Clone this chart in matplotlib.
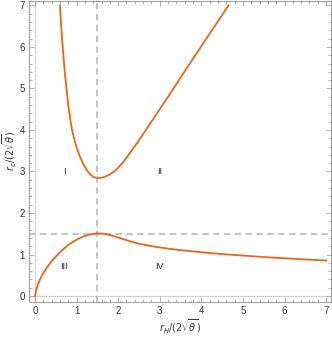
import matplotlib
matplotlib.use("Agg")
import matplotlib.pyplot as plt
from matplotlib.ticker import MultipleLocator

# Upper branch (r_c vs r_H)
upper_x = [0.60, 0.63, 0.66, 0.70, 0.75, 0.80, 0.85, 0.90, 0.96, 1.02, 1.08, 1.16,
           1.24, 1.32, 1.40, 1.50, 1.60, 1.70, 1.80, 1.90, 2.00, 2.10, 2.20, 2.30,
           2.45, 2.60, 2.80, 3.00, 3.20, 3.50, 3.80, 4.10, 4.40, 4.65]
upper_y = [7.00, 6.50, 6.08, 5.58, 5.05, 4.60, 4.24, 3.96, 3.72, 3.52, 3.36, 3.18,
           3.04, 2.94, 2.87, 2.84, 2.85, 2.88, 2.93, 3.00, 3.09, 3.20, 3.33, 3.47,
           3.68, 3.90, 4.20, 4.50, 4.80, 5.26, 5.72, 6.17, 6.62, 7.00]

# Lower branch
lower_x = [0.00, 0.03, 0.07, 0.12, 0.18, 0.25, 0.33, 0.42, 0.52, 0.65, 0.80, 0.97,
           1.15, 1.30, 1.42, 1.52, 1.65, 1.80, 2.00, 2.25, 2.50, 2.75, 3.00, 3.25,
           3.50, 4.00, 4.50, 5.00, 5.50, 6.00, 6.50, 7.00]
lower_y = [0.00, 0.15, 0.28, 0.40, 0.52, 0.63, 0.75, 0.86, 0.97, 1.10, 1.23, 1.34,
           1.43, 1.48, 1.50, 1.51, 1.50, 1.47, 1.41, 1.33, 1.26, 1.21, 1.17, 1.135,
           1.105, 1.055, 1.01, 0.975, 0.94, 0.91, 0.88, 0.855]

vline_x = 1.5
hline_y = 1.5

region_labels = ["I", "II", "III", "IV"]
region_x = [0.7, 3.0, 0.7, 3.0]
region_y = [3.0, 3.0, 0.71, 0.71]

xticks = [0, 1, 2, 3, 4, 5, 6, 7]
yticks = [0, 1, 2, 3, 4, 5, 6, 7]

W, H = 332, 338
fig = plt.figure(figsize=(W / 100, H / 100), dpi=100)
left, right = 29 / W, 330.7 / W
bottom, top = (H - 301.7) / H, (H - 0.5) / H
ax = fig.add_axes([left, bottom, right - left, top - bottom])

curve_color = "#e4661d"
grid_gray = "#bdbdbd"
frame_gray = "#a0a0a0"

ax.axvline(0, color="#d0d0d0", lw=0.9, zorder=1)
ax.axhline(0, color="#d0d0d0", lw=0.9, zorder=1)
ax.axvline(vline_x, color=grid_gray, lw=1.3, ls=(0, (3.5, 2.5)), zorder=2)
ax.axhline(hline_y, color=grid_gray, lw=1.3, ls=(0, (3.5, 2.5)), zorder=2)

ax.plot(upper_x, upper_y, color=curve_color, lw=1.3, zorder=3, solid_joinstyle="round")
ax.plot(lower_x, lower_y, color=curve_color, lw=1.3, zorder=3, solid_joinstyle="round")

for t, x, y in zip(region_labels, region_x, region_y):
    ax.text(x, y, t, fontsize=6.5, ha="center", va="center", color="#222222",
            family="Liberation Sans")

ax.set_xlim(-0.144, 7.11)
ax.set_ylim(-0.137, 7.12)
ax.set_xticks(xticks)
ax.set_yticks(yticks)
ax.xaxis.set_minor_locator(MultipleLocator(0.2))
ax.yaxis.set_minor_locator(MultipleLocator(0.2))
ax.tick_params(which="both", direction="in", top=True, right=True, color=frame_gray,
               labelsize=7, labelcolor="#333333", width=0.6, pad=3)
ax.tick_params(which="major", length=3.5)
ax.tick_params(which="minor", length=2)
for lab in ax.get_xticklabels() + ax.get_yticklabels():
    lab.set_family("Liberation Sans")
for s in ax.spines.values():
    s.set_color(frame_gray)
    s.set_linewidth(0.8)

ax.set_xlabel(r"$r_H/(2\sqrt{\theta})$", fontsize=7, color="#333333", labelpad=1.5)
ax.set_ylabel(r"$r_c/(2\sqrt{\theta})$", fontsize=7, color="#333333", labelpad=0.5)

fig.savefig("out.png", dpi=100)
